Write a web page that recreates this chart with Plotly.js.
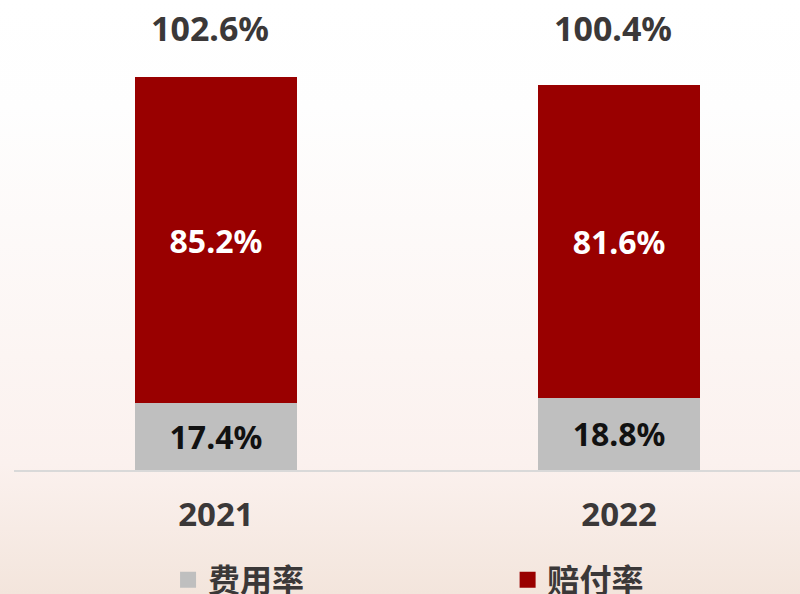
<!DOCTYPE html>
<html>
<head>
<meta charset="utf-8">
<script src="https://cdn.plot.ly/plotly-3.0.1.min.js"></script>
<style>
  html, body { margin: 0; padding: 0; }
  body {
    width: 800px; height: 594px; overflow: hidden;
    background: linear-gradient(to bottom, #ffffff 0%, #fefefe 18%, #fcf5f3 60%, #fbf1ee 78%, #f3e5dc 100%);
  }
  #chart { width: 800px; height: 594px; }
</style>
</head>
<body>
<div id="chart"></div>
<script>
// data
const years = ["2021", "2022"];
const expenseRatio = [17.4, 18.8];   // 费用率
const lossRatio = [85.2, 81.6];      // 赔付率
const seriesNames = ["费用率", "赔付率"];

const fmt = v => v.toFixed(1) + "%";
const totals = years.map((_, i) => expenseRatio[i] + lossRatio[i]);

const FONT = "'Noto Sans', 'Noto Sans CJK SC', sans-serif";
const GREY = "#bfbfbf";
const RED = "#990000";
const DARK = "#3b3838";

const barCommon = {
  type: "bar",
  x: years,
  width: 0.402,
  textposition: "inside",
  insidetextanchor: "middle",
  textangle: 0,
  constraintext: "none",
  hoverinfo: "skip",
  showlegend: false
};

const traces = [
  {
    ...barCommon,
    name: seriesNames[0],
    y: expenseRatio,
    text: expenseRatio.map(fmt),
    marker: { color: GREY, line: { width: 0 } },
    textfont: { family: FONT, size: 32, color: "#111111", weight: "bold" }
  },
  {
    ...barCommon,
    name: seriesNames[1],
    y: lossRatio,
    text: lossRatio.map(fmt),
    marker: { color: RED, line: { width: 0 } },
    textfont: { family: FONT, size: 32, color: "#ffffff", weight: "bold" }
  },
  // legend entries with larger square symbols, one legend each so they can sit apart
  {
    type: "scatter", mode: "markers", x: [null], y: [null],
    name: seriesNames[0],
    marker: { symbol: "square", size: 20, color: GREY },
    showlegend: true, legend: "legend", hoverinfo: "skip"
  },
  {
    type: "scatter", mode: "markers", x: [null], y: [null],
    name: seriesNames[1],
    marker: { symbol: "square", size: 20, color: RED },
    showlegend: true, legend: "legend2", hoverinfo: "skip"
  }
];

const legendCommon = {
  orientation: "h",
  xanchor: "left",
  y: -0.234,
  yanchor: "middle",
  bgcolor: "rgba(0,0,0,0)",
  font: { family: "'Noto Sans CJK SC', sans-serif", size: 32, color: DARK, weight: "bold" },
  itemclick: false,
  itemdoubleclick: false
};

const layout = {
  width: 800,
  height: 594,
  paper_bgcolor: "rgba(0,0,0,0)",
  plot_bgcolor: "rgba(0,0,0,0)",
  margin: { t: 0, r: 0, b: 124, l: 14, autoexpand: false },
  barmode: "stack",
  font: { family: FONT, color: DARK },
  xaxis: {
    type: "category",
    range: [-0.501, 1.449],
    showgrid: false,
    zeroline: false,
    showline: true,
    linecolor: "#d9d9d9",
    linewidth: 2,
    ticks: "",
    ticklabelstandoff: 14,
    tickfont: { family: FONT, size: 33, color: DARK, weight: "bold" },
    fixedrange: true
  },
  yaxis: {
    range: [0, 122.7],
    showgrid: false,
    zeroline: false,
    showline: false,
    showticklabels: false,
    fixedrange: true
  },
  showlegend: true,
  legend: { ...legendCommon, x: 0.196 },
  legend2: { ...legendCommon, x: 0.628 },
  annotations: years.map((yr, i) => ({
    x: i,
    y: 0.9404,
    xref: "x",
    yref: "paper",
    xshift: -6,
    text: fmt(totals[i]),
    showarrow: false,
    xanchor: "center",
    yanchor: "middle",
    font: { family: FONT, size: 34, color: DARK, weight: "bold" }
  }))
};

Plotly.newPlot("chart", traces, layout, { displayModeBar: false, staticPlot: true });
</script>
</body>
</html>
